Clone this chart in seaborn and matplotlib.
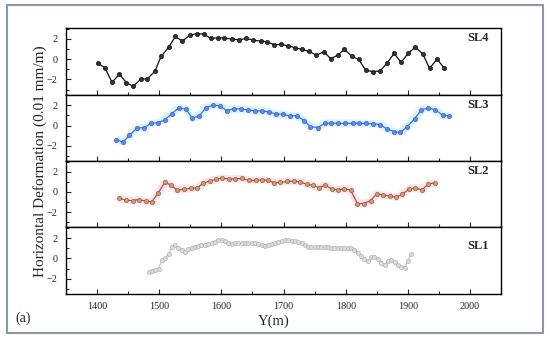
import seaborn as sns
import matplotlib.pyplot as plt
from matplotlib.ticker import MultipleLocator
from matplotlib.patches import Rectangle

# SL4 survey line (black)
sl4_x = [1401, 1413, 1424, 1436, 1447, 1458, 1470, 1481, 1493, 1503, 1515, 1526,
         1537, 1549, 1560, 1572, 1583, 1594, 1605, 1617, 1628, 1640, 1651, 1663,
         1674, 1685, 1696, 1707, 1719, 1730, 1741, 1753, 1765, 1776, 1787, 1798,
         1810, 1821, 1832, 1844, 1856, 1867, 1878, 1889, 1901, 1912, 1924, 1935,
         1947, 1958]
sl4_y = [-0.39, -0.89, -2.30, -1.48, -2.33, -2.69, -2.00, -1.93, -1.21, 0.26, 1.15, 2.23,
         1.77, 2.33, 2.52, 2.46, 2.03, 2.10, 2.07, 1.97, 1.90, 2.03, 1.87, 1.77,
         1.70, 1.41, 1.44, 1.31, 1.11, 0.95, 0.75, 0.39, 0.72, 0.03, 0.39, 0.95,
         0.26, -0.03, -1.08, -1.25, -1.15, -0.36, 0.56, -0.33, 0.59, 1.18, 0.52, -0.92,
         0.00, -0.85]

# SL3 survey line (blue)
sl3_x = [1431, 1442, 1452, 1464, 1475, 1487, 1498, 1509, 1520, 1532, 1543, 1553,
         1564, 1575, 1587, 1598, 1609, 1620, 1632, 1643, 1654, 1665, 1676, 1688,
         1699, 1710, 1721, 1733, 1743, 1755, 1766, 1777, 1788, 1799, 1811, 1822,
         1833, 1844, 1855, 1866, 1878, 1888, 1899, 1911, 1922, 1933, 1944, 1956,
         1967]
sl3_y = [-1.40, -1.63, -0.98, -0.26, -0.20, 0.20, 0.29, 0.55, 1.17, 1.76, 1.59, 0.75,
         0.91, 1.76, 2.02, 1.92, 1.46, 1.66, 1.63, 1.53, 1.43, 1.46, 1.33, 1.14,
         1.11, 0.94, 0.98, 0.49, -0.10, -0.20, 0.20, 0.23, 0.20, 0.20, 0.23, 0.20,
         0.20, 0.16, 0.10, -0.33, -0.62, -0.68, -0.13, 0.68, 1.56, 1.72, 1.56, 1.01,
         0.94]

# SL2 survey line (brown)
sl2_x = [1435, 1446, 1457, 1467, 1478, 1488, 1498, 1509, 1519, 1529, 1540, 1551,
         1561, 1571, 1581, 1591, 1601, 1612, 1622, 1633, 1644, 1655, 1665, 1675,
         1685, 1695, 1706, 1717, 1727, 1737, 1747, 1757, 1767, 1778, 1788, 1798,
         1808, 1819, 1829, 1840, 1850, 1860, 1871, 1881, 1891, 1902, 1912, 1923,
         1933, 1944]
sl2_y = [-0.59, -0.81, -0.85, -0.75, -0.91, -0.98, -0.13, 0.94, 0.68, 0.16, 0.26, 0.36,
         0.39, 0.88, 1.07, 1.24, 1.37, 1.27, 1.30, 1.33, 1.14, 1.14, 1.20, 1.14,
         0.91, 0.94, 1.04, 1.07, 0.98, 0.78, 0.65, 0.42, 0.68, 0.29, 0.20, 0.33,
         0.16, -1.14, -1.14, -0.85, -0.20, -0.29, -0.42, -0.52, -0.23, 0.29, 0.39, 0.20,
         0.81, 0.88]

# SL1 survey line (grey)
sl1_x = [1483, 1488, 1494, 1499, 1504, 1510, 1515, 1520, 1526, 1531, 1536, 1542,
         1547, 1552, 1558, 1563, 1568, 1574, 1579, 1585, 1590, 1595, 1601, 1606,
         1611, 1617, 1622, 1627, 1633, 1638, 1643, 1649, 1654, 1659, 1665, 1670,
         1675, 1681, 1686, 1691, 1697, 1702, 1708, 1713, 1718, 1724, 1729, 1734,
         1740, 1745, 1750, 1756, 1761, 1766, 1772, 1777, 1782, 1788, 1793, 1798,
         1804, 1809, 1814, 1820, 1825, 1830, 1836, 1841, 1846, 1852, 1857, 1863,
         1868, 1873, 1879, 1884, 1889, 1895, 1900, 1905]
sl1_y = [-1.34, -1.27, -1.17, -1.04, -0.13, 0.03, 0.46, 1.17, 1.34, 1.01, 0.85, 0.68,
         0.91, 1.07, 1.17, 1.24, 1.30, 1.37, 1.43, 1.50, 1.66, 1.82, 1.86, 1.76,
         1.56, 1.43, 1.47, 1.47, 1.47, 1.50, 1.53, 1.53, 1.50, 1.43, 1.30, 1.27,
         1.37, 1.43, 1.50, 1.63, 1.73, 1.79, 1.79, 1.73, 1.69, 1.60, 1.50, 1.30,
         1.17, 1.14, 1.14, 1.17, 1.14, 1.11, 1.11, 1.04, 0.98, 1.04, 1.04, 1.07,
         1.04, 0.98, 0.80, 0.55, 0.25, -0.10, -0.30, 0.10, 0.15, -0.10, -0.50, -0.62,
         -0.25, -0.20, -0.40, -0.65, -0.80, -0.90, -0.30, 0.45]

labels = ['SL4', 'SL3', 'SL2', 'SL1']
label_y = [0.85, 0.84, 0.85, 0.72]

sns.set_style("ticks")
plt.rcParams['font.family'] = ['Liberation Serif', 'DejaVu Serif']

fig, axs = plt.subplots(4, 1, figsize=(5.5, 3.39), dpi=100, sharex=True)
fig.subplots_adjust(left=0.12, right=0.911, top=0.917, bottom=0.133, hspace=0)

series = [
    (sl4_x, sl4_y, None, '#111111', '#333333', '#111111'),
    (sl3_x, sl3_y, '#d4f7fb', '#4a69e0', '#6a86f2', '#3d5bd0'),
    (sl2_x, sl2_y, '#fde3f1', '#b0503a', '#c9a06e', '#9c5a36'),
    (sl1_x, sl1_y, None, '#c6c6c6', '#dcdcdc', '#b4b4b4'),
]

for i, (xs, ys, band, lc, mfc, mec) in enumerate(series):
    ax = axs[i]
    if band is not None:
        # light highlight band behind the line
        sns.lineplot(x=xs, y=ys, ax=ax, color=band, linewidth=5.5,
                     estimator=None, solid_capstyle='butt')
    sns.lineplot(x=xs, y=ys, ax=ax, color=lc, linewidth=0.9, marker='o',
                 markersize=3.0, markerfacecolor=mfc, markeredgecolor=mec,
                 markeredgewidth=0.5, estimator=None)
    ax.set_xlim(1350, 2050)
    ax.set_ylim(-3.5, 3.05)
    ax.yaxis.set_major_locator(MultipleLocator(2))
    ax.yaxis.set_minor_locator(MultipleLocator(1))
    ax.xaxis.set_major_locator(MultipleLocator(100))
    ax.xaxis.set_minor_locator(MultipleLocator(50))
    ax.tick_params(which='both', direction='in', labelsize=7.3, width=0.8)
    ax.tick_params(which='major', length=3.5)
    ax.tick_params(which='minor', length=2)
    ax.tick_params(axis='y', pad=6)
    for sp in ax.spines.values():
        sp.set_linewidth(1.0)
        sp.set_color('black')
    ax.set_xlabel('')
    ax.set_ylabel('')
    ax.text(0.947, label_y[i], labels[i], transform=ax.transAxes, ha='center',
            va='center', fontsize=9, fontweight='bold')

axs[-1].tick_params(axis='x', pad=6)

fig.text(40 / 550, 0.525, 'Horizontal Deformation (0.01 mm/m)', rotation=90,
         ha='center', va='center', fontsize=11)
fig.text(0.497, 0.052, 'Y(m)', ha='center', va='center', fontsize=10.5)
fig.text(23 / 550, 0.06, '(a)', ha='center', va='center', fontsize=10)

# grey frame around the whole figure
fig.patches.append(Rectangle((7 / 550, 1 - 333 / 339), 536 / 550, 328 / 339,
                             transform=fig.transFigure, fill=False,
                             edgecolor='#8c96a8', linewidth=1.5))

fig.savefig('out.png', dpi=100)
